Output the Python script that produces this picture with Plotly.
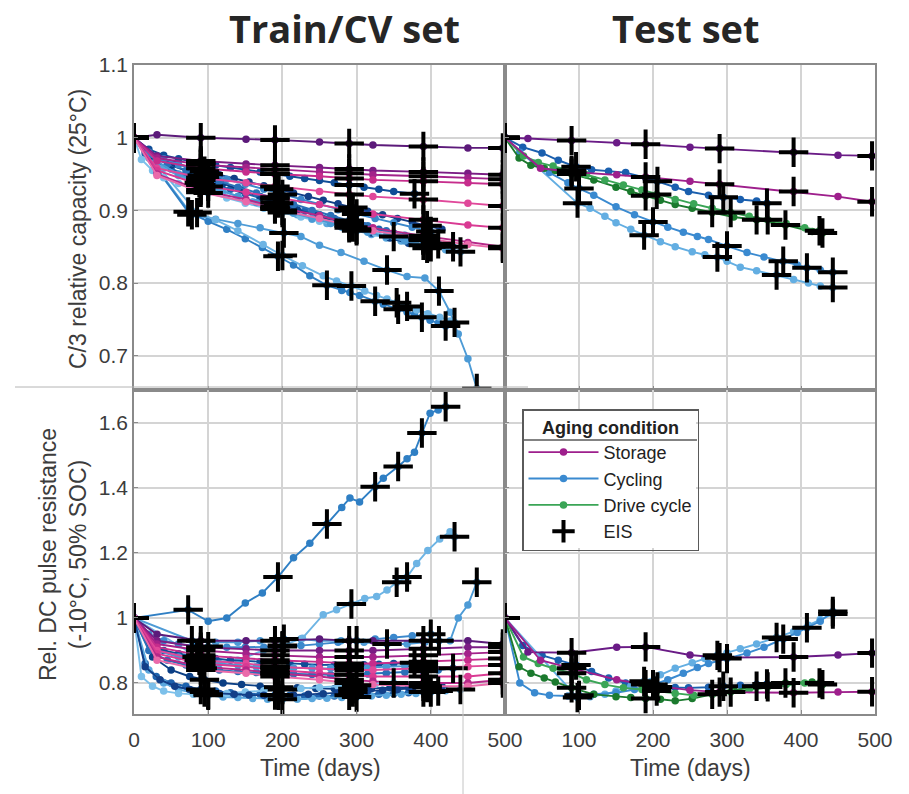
import plotly.graph_objects as go

# ---------------- Train/CV set : storage cells (common RPT schedule) ----------------
train_storage_days = [0, 31, 90, 151, 190, 250, 290, 322, 390, 450, 497]
train_storage_eis = [0, 90, 190, 290, 390, 497]

s1_cap = [1.0, 1.004, 1.0, 0.998, 0.997, 0.994, 0.992, 0.990, 0.988, 0.986, 0.986]
s2_cap = [1.0, 0.975, 0.968, 0.964, 0.962, 0.959, 0.957, 0.955, 0.953, 0.951, 0.949]
s3_cap = [1.0, 0.972, 0.963, 0.959, 0.956, 0.953, 0.951, 0.949, 0.947, 0.945, 0.943]
s4_cap = [1.0, 0.968, 0.958, 0.953, 0.950, 0.947, 0.944, 0.942, 0.940, 0.938, 0.936]
s5_cap = [1.0, 0.958, 0.945, 0.938, 0.933, 0.926, 0.922, 0.919, 0.915, 0.910, 0.906]
s6_cap = [1.0, 0.955, 0.935, 0.925, 0.918, 0.908, 0.900, 0.895, 0.887, 0.880, 0.876]
s7_cap = [1.0, 0.950, 0.928, 0.915, 0.905, 0.893, 0.882, 0.876, 0.865, 0.856, 0.850]
s8_cap = [1.0, 0.948, 0.925, 0.912, 0.902, 0.889, 0.879, 0.872, 0.862, 0.853, 0.848]

s1_res = [1.0, 0.95, 0.93, 0.93, 0.93, 0.935, 0.93, 0.93, 0.93, 0.93, 0.92]
s2_res = [1.0, 0.93, 0.91, 0.905, 0.90, 0.90, 0.90, 0.90, 0.905, 0.91, 0.91]
s3_res = [1.0, 0.92, 0.90, 0.89, 0.885, 0.88, 0.88, 0.88, 0.885, 0.89, 0.895]
s4_res = [1.0, 0.91, 0.885, 0.875, 0.87, 0.865, 0.86, 0.86, 0.865, 0.87, 0.875]
s5_res = [1.0, 0.90, 0.87, 0.86, 0.85, 0.845, 0.84, 0.84, 0.845, 0.85, 0.855]
s6_res = [1.0, 0.89, 0.86, 0.85, 0.84, 0.83, 0.825, 0.82, 0.82, 0.82, 0.83]
s7_res = [1.0, 0.88, 0.85, 0.84, 0.83, 0.82, 0.81, 0.805, 0.80, 0.80, 0.81]
s8_res = [1.0, 0.87, 0.84, 0.83, 0.82, 0.81, 0.80, 0.795, 0.79, 0.79, 0.80]

# ---------------- Train/CV set : cycling cells ----------------
c1_days = [0, 78, 110, 140, 170, 202, 225, 250, 279, 310, 341, 368, 392, 411, 426, 437, 450, 462]
c1_cap = [1.0, 0.894, 0.888, 0.882, 0.876, 0.869, 0.864, 0.852, 0.842, 0.83, 0.818, 0.809, 0.807, 0.789, 0.76, 0.73, 0.696, 0.655]
c1_res = [1.0, 0.93, 0.925, 0.925, 0.93, 0.935, 0.935, 0.93, 0.93, 0.925, 0.92, 0.92, 0.925, 0.93, 0.93, 1.0, 1.04, 1.11]
c1_eis = [0, 78, 202, 341, 411, 462]

c2_days = [0, 73, 100, 125, 150, 173, 194, 215, 237, 260, 280, 291, 304, 325, 336, 356, 368, 378, 388, 399, 410, 420]
c2_cap = [1.0, 0.898, 0.885, 0.874, 0.861, 0.849, 0.837, 0.825, 0.81, 0.797, 0.79, 0.787, 0.783, 0.775, 0.771, 0.764, 0.76, 0.757, 0.753, 0.749, 0.745, 0.741]
c2_res = [1.0, 1.025, 0.99, 1.0, 1.046, 1.077, 1.126, 1.185, 1.23, 1.289, 1.34, 1.369, 1.357, 1.404, 1.43, 1.466, 1.49, 1.51, 1.569, 1.63, 1.64, 1.65]
c2_eis = [0, 73, 194, 260, 325, 356, 388, 420]

c3_days = [0, 85, 110, 140, 174, 200, 227, 255, 273, 293, 311, 327, 341, 354, 368, 381, 396, 412, 426, 432]
c3_cap = [1.0, 0.897, 0.887, 0.872, 0.853, 0.838, 0.824, 0.81, 0.803, 0.796, 0.789, 0.783, 0.778, 0.773, 0.768, 0.763, 0.758, 0.753, 0.748, 0.746]
c3_res = [1.0, 0.88, 0.86, 0.87, 0.90, 0.915, 0.938, 1.01, 1.025, 1.043, 1.06, 1.066, 1.086, 1.11, 1.126, 1.168, 1.208, 1.243, 1.265, 1.25]
c3_eis = [0, 85, 200, 293, 354, 368, 432]

c4_days = [0, 20, 40, 60, 90, 110, 130, 150, 170, 190, 210, 230, 250, 270, 290, 310, 330, 350, 378]
c4_cap = [1.0, 0.984, 0.976, 0.971, 0.965, 0.962, 0.959, 0.956, 0.953, 0.95, 0.947, 0.944, 0.941, 0.938, 0.935, 0.932, 0.929, 0.926, 0.923]
c4_res = [1.0, 0.93, 0.9, 0.89, 0.88, 0.875, 0.87, 0.868, 0.865, 0.862, 0.86, 0.858, 0.856, 0.855, 0.855, 0.856, 0.858, 0.86, 0.862]
c4_eis = [0, 90, 190, 290, 378]

c5_days = [0, 15, 30, 50, 70, 90, 110, 130, 150, 170, 190, 210, 230, 250, 270, 290, 310, 330, 350, 370, 390, 410]
c5_cap = [1.0, 0.978, 0.966, 0.957, 0.949, 0.942, 0.935, 0.929, 0.923, 0.917, 0.911, 0.905, 0.899, 0.894, 0.889, 0.884, 0.879, 0.874, 0.869, 0.864, 0.859, 0.854]
c5_res = [1.0, 0.86, 0.82, 0.8, 0.79, 0.78, 0.775, 0.77, 0.768, 0.765, 0.763, 0.762, 0.76, 0.76, 0.76, 0.762, 0.763, 0.765, 0.767, 0.77, 0.772, 0.775]
c5_eis = [0, 90, 190, 290, 390, 410]

c6_days = [0, 20, 40, 60, 80, 100, 120, 140, 160, 180, 200, 220, 240, 260, 280, 300, 320, 340, 360, 380, 400, 420, 440]
c6_cap = [1.0, 0.972, 0.958, 0.948, 0.94, 0.933, 0.926, 0.919, 0.912, 0.906, 0.9, 0.894, 0.888, 0.882, 0.877, 0.872, 0.867, 0.862, 0.858, 0.854, 0.85, 0.846, 0.843]
c6_res = [1.0, 0.84, 0.8, 0.78, 0.77, 0.762, 0.757, 0.755, 0.752, 0.75, 0.75, 0.75, 0.752, 0.753, 0.755, 0.757, 0.76, 0.762, 0.765, 0.768, 0.772, 0.776, 0.78]
c6_eis = [0, 100, 200, 300, 400, 440]

c7_days = [0, 25, 50, 75, 95, 120, 145, 170, 195, 220, 245, 270, 295, 320, 345, 370, 395]
c7_cap = [1.0, 0.975, 0.962, 0.953, 0.946, 0.937, 0.928, 0.919, 0.91, 0.901, 0.893, 0.885, 0.877, 0.869, 0.862, 0.855, 0.848]
c7_res = [1.0, 0.88, 0.84, 0.82, 0.81, 0.8, 0.795, 0.79, 0.787, 0.785, 0.783, 0.782, 0.782, 0.783, 0.785, 0.787, 0.79]
c7_eis = [0, 95, 195, 295, 395]

c8_days = [0, 10, 25, 40, 60, 80, 100, 125, 150, 175, 200, 225, 250, 275, 300, 325, 350]
c8_cap = [1.0, 0.97, 0.955, 0.945, 0.937, 0.93, 0.924, 0.917, 0.91, 0.903, 0.897, 0.891, 0.885, 0.879, 0.874, 0.869, 0.864]
c8_res = [1.0, 0.82, 0.79, 0.775, 0.768, 0.765, 0.765, 0.768, 0.772, 0.776, 0.78, 0.783, 0.786, 0.79, 0.793, 0.796, 0.8]
c8_eis = [0, 100, 200, 300, 350]

c9_days = [0, 20, 45, 70, 92, 115, 140, 165, 190, 215, 240, 265, 290, 315, 340, 365, 390, 410, 430]
c9_cap = [1.0, 0.976, 0.964, 0.955, 0.948, 0.94, 0.932, 0.924, 0.916, 0.908, 0.9, 0.893, 0.886, 0.879, 0.872, 0.866, 0.86, 0.855, 0.85]
c9_res = [1.0, 0.9, 0.87, 0.855, 0.845, 0.84, 0.835, 0.832, 0.83, 0.828, 0.826, 0.825, 0.826, 0.828, 0.83, 0.833, 0.836, 0.84, 0.845]
c9_eis = [0, 92, 190, 290, 390, 430]

c10_days = [0, 30, 60, 88, 115, 140, 165, 190, 215, 240, 265, 290, 315, 340, 365, 390]
c10_cap = [1.0, 0.968, 0.95, 0.938, 0.928, 0.919, 0.911, 0.903, 0.896, 0.889, 0.882, 0.876, 0.87, 0.864, 0.858, 0.852]
c10_res = [1.0, 0.9, 0.88, 0.87, 0.86, 0.855, 0.85, 0.848, 0.846, 0.845, 0.845, 0.846, 0.848, 0.85, 0.852, 0.855]
c10_eis = [0, 88, 190, 290, 390]

c11_days = [0, 15, 35, 55, 75, 95, 115, 135, 155, 175, 195, 215, 235, 255, 275, 295, 315, 335, 355, 375, 395, 415]
c11_cap = [1.0, 0.982, 0.972, 0.965, 0.959, 0.954, 0.949, 0.944, 0.939, 0.934, 0.929, 0.924, 0.919, 0.914, 0.909, 0.904, 0.899, 0.894, 0.889, 0.884, 0.879, 0.874]
c11_res = [1.0, 0.85, 0.81, 0.79, 0.78, 0.772, 0.768, 0.765, 0.763, 0.762, 0.762, 0.763, 0.765, 0.767, 0.77, 0.772, 0.775, 0.778, 0.78, 0.783, 0.786, 0.79]
c11_eis = [0, 95, 195, 295, 395]

c12_days = [0, 20, 40, 60, 80, 100, 125, 150, 175, 200, 225, 250, 275, 300, 325, 350, 375, 400]
c12_cap = [1.0, 0.98, 0.971, 0.963, 0.956, 0.95, 0.943, 0.936, 0.929, 0.922, 0.915, 0.908, 0.901, 0.895, 0.889, 0.883, 0.877, 0.871]
c12_res = [1.0, 0.95, 0.93, 0.92, 0.915, 0.912, 0.91, 0.91, 0.91, 0.912, 0.915, 0.92, 0.925, 0.93, 0.935, 0.94, 0.945, 0.95]
c12_eis = [0, 100, 200, 300, 400]

# ---------------- Test set ----------------
ts1_days = [0, 31, 90, 151, 190, 250, 290, 390, 450, 496]
ts1_cap = [1.0, 0.999, 0.996, 0.993, 0.991, 0.987, 0.985, 0.98, 0.976, 0.975]
ts1_res = [1.0, 0.895, 0.893, 0.91, 0.911, 0.886, 0.878, 0.88, 0.886, 0.892]
ts1_eis = [0, 90, 190, 290, 390, 496]

ts2_days = [0, 48, 90, 151, 190, 250, 290, 390, 450, 496]
ts2_cap = [1.0, 0.958, 0.953, 0.949, 0.946, 0.94, 0.936, 0.926, 0.919, 0.912]
ts2_res = [1.0, 0.87, 0.845, 0.81, 0.795, 0.778, 0.772, 0.77, 0.772, 0.773]
ts2_eis = [0, 90, 190, 290, 390, 496]

tc1_days = [0, 24, 50, 72, 96, 117, 140, 163, 190, 206, 230, 248, 275, 295, 318, 340, 354]
tc1_cap = [1.0, 0.987, 0.979, 0.969, 0.96, 0.956, 0.954, 0.952, 0.945, 0.94, 0.932, 0.926, 0.921, 0.918, 0.915, 0.913, 0.91]
tc1_res = [1.0, 0.915, 0.885, 0.87, 0.855, 0.835, 0.815, 0.8, 0.79, 0.788, 0.786, 0.785, 0.787, 0.79, 0.793, 0.795, 0.797]
tc1_eis = [0, 96, 206, 295, 354]

tc2_days = [0, 98, 115, 135, 150, 170, 188, 210, 230, 253, 270, 287, 300, 318, 340, 367, 390, 410, 426, 443]
tc2_cap = [1.0, 0.91, 0.903, 0.892, 0.883, 0.874, 0.866, 0.857, 0.85, 0.843, 0.839, 0.836, 0.83, 0.822, 0.817, 0.811, 0.805, 0.8, 0.796, 0.794]
tc2_res = [1.0, 0.755, 0.758, 0.765, 0.775, 0.79, 0.805, 0.825, 0.845, 0.862, 0.875, 0.885, 0.893, 0.905, 0.92, 0.94, 0.958, 0.978, 0.995, 1.012]
tc2_eis = [0, 98, 188, 287, 367, 443]

tc3_days = [0, 20, 40, 60, 85, 100, 120, 150, 175, 200, 220, 241, 260, 275, 300, 327, 350, 376, 395, 408, 426, 443]
tc3_cap = [1.0, 0.98, 0.965, 0.952, 0.938, 0.93, 0.921, 0.905, 0.894, 0.884, 0.877, 0.87, 0.864, 0.86, 0.851, 0.842, 0.836, 0.83, 0.825, 0.821, 0.818, 0.815]
tc3_res = [1.0, 0.8, 0.77, 0.762, 0.76, 0.762, 0.765, 0.77, 0.78, 0.795, 0.81, 0.83, 0.848, 0.86, 0.875, 0.892, 0.91, 0.935, 0.955, 0.97, 0.99, 1.02]
tc3_eis = [0, 100, 200, 300, 376, 408, 443]

td1_days = [0, 19, 35, 53, 68, 90, 120, 150, 170, 190, 210, 230, 253, 280, 309, 340, 379, 415, 429]
td1_cap = [1.0, 0.972, 0.962, 0.958, 0.955, 0.95, 0.942, 0.932, 0.926, 0.92, 0.914, 0.908, 0.903, 0.897, 0.891, 0.887, 0.88, 0.871, 0.869]
td1_res = [1.0, 0.85, 0.83, 0.815, 0.803, 0.785, 0.765, 0.758, 0.755, 0.752, 0.75, 0.745, 0.752, 0.765, 0.778, 0.79, 0.8, 0.803, 0.795]
td1_eis = [0, 90, 190, 280, 340, 379, 429]

td2_days = [0, 25, 45, 65, 90, 110, 135, 160, 185, 205, 230, 255, 280, 305, 330, 355, 380, 405, 425]
td2_cap = [1.0, 0.975, 0.966, 0.961, 0.955, 0.949, 0.942, 0.935, 0.928, 0.922, 0.915, 0.909, 0.903, 0.897, 0.892, 0.887, 0.882, 0.876, 0.872]
td2_res = [1.0, 0.88, 0.86, 0.845, 0.83, 0.81, 0.795, 0.785, 0.78, 0.775, 0.768, 0.762, 0.765, 0.772, 0.78, 0.788, 0.795, 0.8, 0.8]
td2_eis = [0, 90, 205, 305, 355, 425]

# ---------------- axis tick labels ----------------
x_ticks_left = [0, 100, 200, 300, 400, 500]
x_ticks_right = [100, 200, 300, 400, 500]
cap_ticks = [0.7, 0.8, 0.9, 1.0, 1.1]
cap_tick_text = ["0.7", "0.8", "0.9", "1", "1.1"]
res_ticks = [0.8, 1.0, 1.2, 1.4, 1.6]
res_tick_text = ["0.8", "1", "1.2", "1.4", "1.6"]

# series groupings: (days, capacity, resistance, eis days, colour)
train_cycling = [
    (c1_days, c1_cap, c1_res, c1_eis, "#4d9bd6"),
    (c2_days, c2_cap, c2_res, c2_eis, "#2f7fc4"),
    (c3_days, c3_cap, c3_res, c3_eis, "#6db4e4"),
    (c4_days, c4_cap, c4_res, c4_eis, "#0f4d97"),
    (c5_days, c5_cap, c5_res, c5_eis, "#1d62ad"),
    (c6_days, c6_cap, c6_res, c6_eis, "#5aa7dd"),
    (c7_days, c7_cap, c7_res, c7_eis, "#0b3f85"),
    (c8_days, c8_cap, c8_res, c8_eis, "#7cc0ea"),
    (c9_days, c9_cap, c9_res, c9_eis, "#2a70b8"),
    (c10_days, c10_cap, c10_res, c10_eis, "#4a99d4"),
    (c11_days, c11_cap, c11_res, c11_eis, "#123f88"),
    (c12_days, c12_cap, c12_res, c12_eis, "#3b88cc"),
]
train_storage = [
    (train_storage_days, s1_cap, s1_res, train_storage_eis, "#5c1a7a"),
    (train_storage_days, s2_cap, s2_res, train_storage_eis, "#7b1d84"),
    (train_storage_days, s3_cap, s3_res, train_storage_eis, "#a3228a"),
    (train_storage_days, s4_cap, s4_res, train_storage_eis, "#c62d8c"),
    (train_storage_days, s5_cap, s5_res, train_storage_eis, "#e0489a"),
    (train_storage_days, s6_cap, s6_res, train_storage_eis, "#d93a93"),
    (train_storage_days, s7_cap, s7_res, train_storage_eis, "#b52889"),
    (train_storage_days, s8_cap, s8_res, train_storage_eis, "#ea6aaa"),
]
test_series = [
    (tc1_days, tc1_cap, tc1_res, tc1_eis, "#1a5fae", None),
    (tc2_days, tc2_cap, tc2_res, tc2_eis, "#63aee2", None),
    (tc3_days, tc3_cap, tc3_res, tc3_eis, "#3a8ad0", "Cycling"),
    (td1_days, td1_cap, td1_res, td1_eis, "#1b7a2e", None),
    (td2_days, td2_cap, td2_res, td2_eis, "#3aa556", "Drive cycle"),
    (ts1_days, ts1_cap, ts1_res, ts1_eis, "#6a1b86", None),
    (ts2_days, ts2_cap, ts2_res, ts2_eis, "#9e1f8c", "Storage"),
]
legend_rank = {"Storage": 1, "Cycling": 2, "Drive cycle": 3}

W, H = 909, 794


def px(x):
    return x / W


def py(y):
    return 1 - y / H


fig = go.Figure()


def add_line(days, vals, color, xa, ya, name=None):
    fig.add_trace(go.Scatter(
        x=days, y=vals, mode="lines+markers", xaxis=xa, yaxis=ya,
        line=dict(color=color, width=1.9),
        marker=dict(color=color, size=7.5),
        name=name or "", showlegend=name is not None,
        legendrank=legend_rank.get(name, 10),
        hoverinfo="skip",
    ))


def eis_points(days, vals, eis_days):
    xs, ys = [], []
    for d in eis_days:
        i = days.index(d)
        xs.append(days[i])
        ys.append(vals[i])
    return xs, ys


def add_eis(series, key, xa, ya, show):
    xs, ys = [], []
    for s in series:
        ex, ey = eis_points(s[0], s[key], s[3])
        xs += ex
        ys += ey
    fig.add_trace(go.Scatter(
        x=xs, y=ys, mode="markers", xaxis=xa, yaxis=ya,
        marker=dict(symbol="cross-thin", size=21, color="black",
                    line=dict(color="black", width=4)),
        name="EIS", showlegend=show, legendrank=4, hoverinfo="skip",
    ))


# Train/CV: capacity (x, y) and resistance (x3, y3)
for key, xa, ya in [(1, "x", "y"), (2, "x3", "y3")]:
    for s in train_cycling:
        assert len(s[0]) == len(s[1]) == len(s[2])
        add_line(s[0], s[key], s[4], xa, ya)
    for s in train_storage:
        assert len(s[0]) == len(s[1]) == len(s[2])
        add_line(s[0], s[key], s[4], xa, ya)
    add_eis(train_cycling + train_storage, key, xa, ya, False)

# Test: capacity (x2, y2) and resistance (x4, y4)
for key, xa, ya in [(1, "x2", "y2"), (2, "x4", "y4")]:
    for s in test_series:
        assert len(s[0]) == len(s[1]) == len(s[2])
        add_line(s[0], s[key], s[4], xa, ya, s[5] if key == 2 else None)
    add_eis(test_series, key, xa, ya, key == 2)

tick_font = dict(family="Liberation Sans, Arial, sans-serif", size=21, color="#3c3c3c")
axis_style = dict(showline=True, mirror=True, linecolor="#8a8a8a", linewidth=1.5,
                  showgrid=True, gridcolor="#d4d4d4", gridwidth=1.5, zeroline=False,
                  ticks="inside", ticklen=4, tickcolor="#8a8a8a", tickfont=tick_font,
                  automargin=False)

x_left = [px(134), px(505)]
x_right = [px(505), px(875)]
y_top = [py(390), py(65)]
y_bot = [py(714), py(390)]

legend_font = dict(family="Liberation Sans, Arial, sans-serif", size=18, color="#222")
fig.update_layout(
    width=W, height=H, autosize=False,
    margin=dict(l=0, r=0, t=0, b=0, autoexpand=False),
    paper_bgcolor="white", plot_bgcolor="white",
    xaxis=dict(domain=x_left, anchor="y", range=[0, 500], tickvals=x_ticks_left,
               showticklabels=False, **axis_style),
    yaxis=dict(domain=y_top, anchor="x", range=[0.653, 1.1], tickvals=cap_ticks,
               ticktext=cap_tick_text, **axis_style),
    xaxis2=dict(domain=x_right, anchor="y2", range=[0, 500], tickvals=x_ticks_right,
                showticklabels=False, **axis_style),
    yaxis2=dict(domain=y_top, anchor="x2", range=[0.653, 1.1], tickvals=cap_ticks,
                showticklabels=False, **axis_style),
    xaxis3=dict(domain=x_left, anchor="y3", range=[0, 500], tickvals=x_ticks_left,
                ticklabelstandoff=6, **axis_style),
    yaxis3=dict(domain=y_bot, anchor="x3", range=[0.7046, 1.7015], tickvals=res_ticks,
                ticktext=res_tick_text, **axis_style),
    xaxis4=dict(domain=x_right, anchor="y4", range=[0, 500], tickvals=x_ticks_right,
                ticklabelstandoff=6, **axis_style),
    yaxis4=dict(domain=y_bot, anchor="x4", range=[0.7046, 1.7015], tickvals=res_ticks,
                showticklabels=False, **axis_style),
    legend=dict(
        x=px(522), y=py(409), xanchor="left", yanchor="top",
        bgcolor="rgba(255,255,255,0)", bordercolor="#5a5a5a", borderwidth=1.5,
        font=legend_font,
        title=dict(text="<b>Aging condition</b>", side="top center", font=legend_font),
        itemwidth=70, traceorder="normal",
    ),
    showlegend=True,
)

title_font = dict(family="Open Sans, sans-serif", size=38, color="#262626")
label_font = dict(family="Liberation Sans, Arial, sans-serif", size=23, color="#3c3c3c")
annotations = [
    dict(text="<b>Train/CV set</b>", x=px(344), y=1, yanchor="top", font=title_font),
    dict(text="<b>Test set</b>", x=px(686), y=1, yanchor="top", font=title_font),
    dict(text="C/3 relative capacity (25°C)", x=px(78), y=py(229), textangle=-90,
         yanchor="middle", font=label_font),
    dict(text="Rel. DC pulse resistance<br>(-10°C, 50% SOC)", x=px(63), y=py(555),
         textangle=-90, yanchor="middle", font=label_font),
    dict(text="Time (days)", x=px(320), y=py(768), yanchor="middle", font=label_font),
    dict(text="Time (days)", x=px(690), y=py(768), yanchor="middle", font=label_font),
]
for a in annotations:
    fig.add_annotation(xref="paper", yref="paper", showarrow=False,
                       xanchor="center", **a)

# opaque legend panel with a rule under its title
fig.add_shape(type="rect", xref="paper", yref="paper", layer="above",
              x0=px(523), x1=px(696), y0=py(548), y1=py(410),
              fillcolor="white", line=dict(width=0))
fig.add_shape(type="line", xref="paper", yref="paper", layer="above",
              x0=px(523), x1=px(697), y0=py(440), y1=py(440),
              line=dict(color="#5a5a5a", width=1.5))
# thin guide lines of the composite figure
fig.add_shape(type="line", xref="paper", yref="paper", x0=px(15), x1=px(528),
              y0=py(387), y1=py(387), line=dict(color="#b4b4b4", width=1))
fig.add_shape(type="line", xref="paper", yref="paper", x0=px(463), x1=px(463),
              y0=py(620), y1=py(794), line=dict(color="#c4c4c4", width=1))

fig.write_html("out.html")
